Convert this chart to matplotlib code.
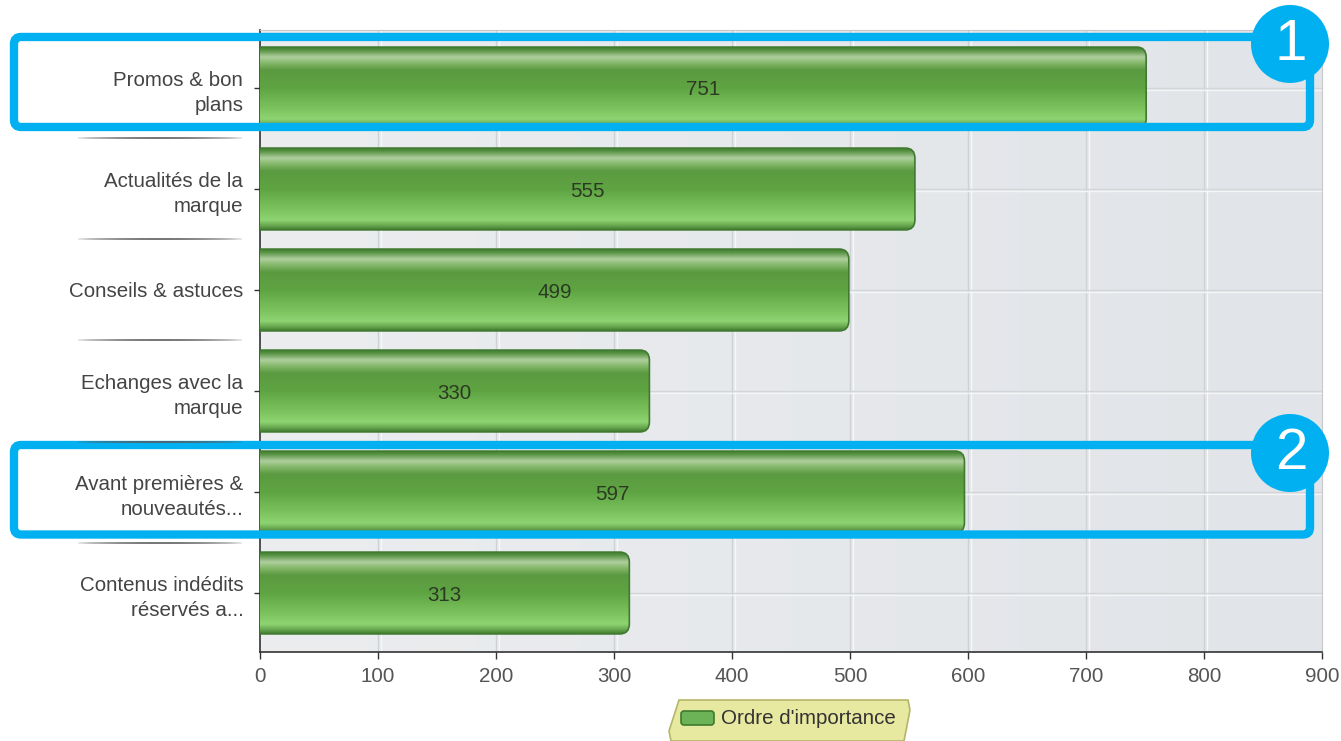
import numpy as np
import matplotlib
matplotlib.use("Agg")
import matplotlib.pyplot as plt
from matplotlib.patches import FancyBboxPatch, Circle, Polygon
from matplotlib.colors import LinearSegmentedColormap
from matplotlib.collections import LineCollection

plt.rcParams["font.family"] = ["Liberation Sans", "DejaVu Sans"]

categories = ["Promos & bon\nplans", "Actualités de la\nmarque", "Conseils & astuces",
              "Echanges avec la\nmarque", "Avant premières &\nnouveautés...",
              "Contenus indédits\nréservés a..."]
values = [751, 555, 499, 330, 597, 313]
xticks = [0, 100, 200, 300, 400, 500, 600, 700, 800, 900]
series_name = "Ordre d'importance"
highlights = [(0, "1"), (4, "2")]

FS = 14.8
W, H = 1341, 741
fig = plt.figure(figsize=(W / 100, H / 100), dpi=100)
fig.patch.set_facecolor("white")
ax = fig.add_axes([260 / W, 1 - 652 / H, (1322 - 260) / W, (652 - 30) / H])

ypos = np.arange(len(categories))
ax.set_xlim(0, 900)
ax.set_ylim(5.584, -0.574)

# background gradient
bg = LinearSegmentedColormap.from_list("bg", ["#ebedef", "#e1e4e8"])
ax.imshow(np.linspace(0, 1, 256).reshape(1, -1), extent=[0, 900, 5.584, -0.574],
          aspect="auto", cmap=bg, zorder=0)
for x in xticks[1:-1]:
    ax.axvline(x, color="#cfd2d5", lw=1.0, zorder=1)
    ax.axvline(x + 2.5, color="#f6f7f8", lw=1.0, zorder=1)
for y in ypos:
    ax.axhline(y, color="#d3d6d9", lw=1.0, zorder=1)
    ax.axhline(y + 0.02, color="#f4f5f6", lw=1.0, zorder=1)

bars = ax.barh(ypos, values, height=0.81, color="none", edgecolor="none", zorder=2)

gcol = LinearSegmentedColormap.from_list("g", [
    (0.0, "#3f7d2e"), (0.04, "#5a9445"), (0.12, "#b0cfa0"), (0.19, "#86b96c"),
    (0.28, "#5b9a40"), (0.5, "#5fa443"), (0.75, "#7cc35e"), (0.88, "#8ed472"),
    (0.95, "#66a44e"), (1.0, "#3e7a2c")])
grad = np.linspace(0, 1, 256).reshape(-1, 1)
for b, v in zip(bars, values):
    x0, y0, w, h = b.get_x(), b.get_y(), b.get_width(), b.get_height()
    ext = 20  # extend left beyond axis so only right corners look rounded
    patch = FancyBboxPatch((x0 - ext, y0), w + ext, h,
                           boxstyle="round,pad=0,rounding_size=8",
                           mutation_aspect=0.0125,
                           facecolor="none", edgecolor="#3f7a30", lw=1.2, zorder=4)
    ax.add_patch(patch)
    im = ax.imshow(grad, extent=[x0, x0 + w, y0 + h, y0], aspect="auto",
                   cmap=gcol, zorder=3, interpolation="bicubic")
    im.set_clip_path(patch)
    ax.text(x0 + w / 2, y0 + h / 2 + 0.02, str(v), ha="center", va="center",
            fontsize=FS, color="#2c3a24", zorder=5)

ax.set_yticks(ypos)
ax.set_yticklabels(categories, fontsize=FS, color="#444444", linespacing=1.42,
                   ha="right")
ax.set_xticks(xticks)
ax.set_xticklabels([str(t) for t in xticks], fontsize=FS, color="#555555")
ax.tick_params(axis="y", length=4, width=1, color="#333333", pad=8)
ax.tick_params(axis="x", length=5, width=1, color="#333333", pad=6)
for s in ["top", "right"]:
    ax.spines[s].set_color("#c8c8c8")
for s in ["left", "bottom"]:
    ax.spines[s].set_color("#333333")
    ax.spines[s].set_linewidth(1.2)

# overlay axes in pixel coordinates
ov = fig.add_axes([0, 0, 1, 1])
ov.set_xlim(0, W)
ov.set_ylim(H, 0)
ov.axis("off")
ov.set_zorder(10)


def to_px(yv):
    _, yd = ax.transData.transform((0, yv))
    return H - yd


# separators on left
for y in ypos[:-1]:
    yp = to_px(y + 0.5)
    xs = np.linspace(75, 245, 60)
    segs = [[(xs[i], yp), (xs[i + 1], yp)] for i in range(len(xs) - 1)]
    t = np.linspace(0, 1, len(segs))
    alpha = np.sin(np.pi * t) ** 0.6
    cols = [(0.35, 0.35, 0.35, a * 0.9) for a in alpha]
    ov.add_collection(LineCollection(segs, colors=cols, linewidths=1.3))

# highlight boxes and badges
offsets = {0: (-0.5, -11.5, 7), 4: (3.5, -8, 8)}
for idx, lab in highlights:
    dt, db, dc = offsets[idx]
    yt = to_px(idx - 0.5) + dt
    yb = to_px(idx + 0.5) + db
    box = FancyBboxPatch((14, yt), 1296, yb - yt, boxstyle="round,pad=0,rounding_size=7",
                         facecolor="none", edgecolor="#00b0f0", lw=6)
    ov.add_patch(box)
    cy = yt + dc
    ov.add_patch(Circle((1290, cy), 39, facecolor="#00b0f0", edgecolor="none"))
    ov.text(1291, cy + 1, lab, ha="center", va="center", fontsize=42,
            color="white")

# legend
lx0, lx1, ly0, ly1 = 669, 910, 700, 741
c = 10
poly = Polygon([(lx0 + c, ly0), (lx1 - 2, ly0), (lx1, ly0 + c), (lx1 - 6, ly1),
                (lx0 + 2, ly1), (lx0, ly1 - c)], closed=True,
               facecolor="#e7e9a0", edgecolor="#b5b56a", lw=1.2)
ov.add_patch(poly)
ov.add_patch(FancyBboxPatch((681, 711), 33, 14, boxstyle="round,pad=0,rounding_size=3",
                            facecolor="#6cb357", edgecolor="#3e7a2c", lw=1.2))
ov.text(721, 719, series_name, ha="left", va="center", fontsize=FS, color="#333333")

fig.savefig("out.png", dpi=100)
